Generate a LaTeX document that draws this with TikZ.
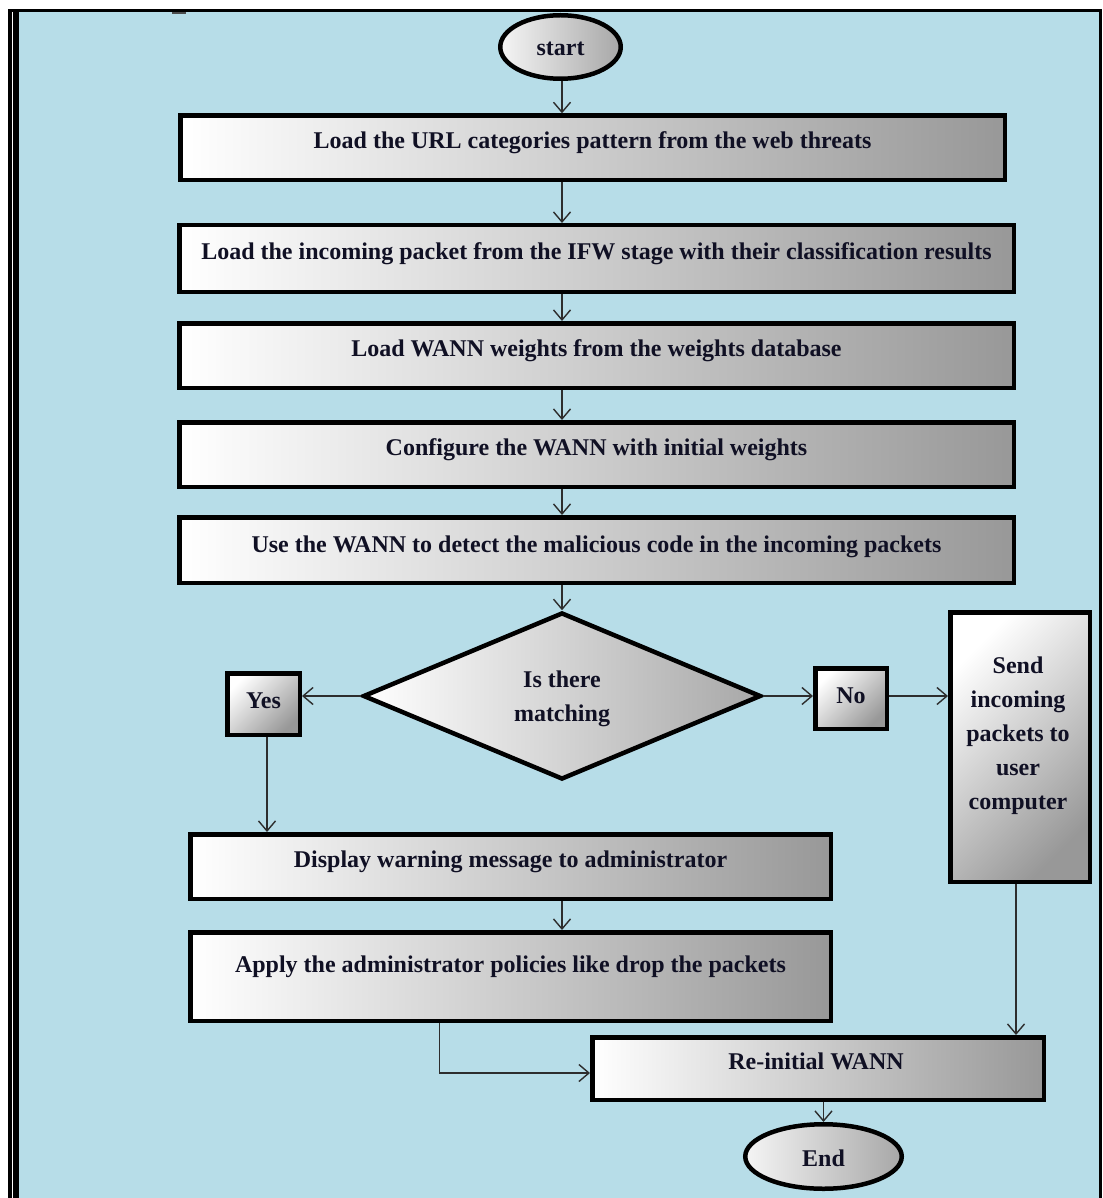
\documentclass[tikz,border=0pt]{standalone}
\usepackage{fontspec}
\setmainfont{Liberation Serif}
\usetikzlibrary{shapes.geometric,arrows.meta}
\definecolor{bgblue}{RGB}{183,221,232}
\definecolor{boxgray}{RGB}{152,152,152}
\definecolor{ink}{RGB}{16,16,36}
\definecolor{wire}{RGB}{45,45,45}
\begin{document}
\begin{tikzpicture}[x=1pt,y=-1pt,
  box/.style={draw=black, line width=4.5pt, rectangle, inner sep=0pt,
    left color=white, right color=boxgray},
  dbox/.style={draw=black, line width=4.5pt, rectangle, inner sep=0pt,
    top color=white, bottom color=boxgray, shading angle=45},
  oval/.style={draw=black, line width=4.5pt, ellipse, inner sep=0pt,
    left color=white!96!black, right color=boxgray!85!white},
  decision/.style={draw=black, line width=4.5pt, diamond, inner sep=0pt,
    left color=white, right color=boxgray!85!white},
  txt/.style={font=\bfseries\fontsize{24}{34}\selectfont, text=ink,
    align=center, inner sep=0pt, text height=17pt, text depth=5pt},
  txtm/.style={font=\bfseries\fontsize{24}{34}\selectfont, text=ink,
    align=center, inner sep=0pt},
  arr/.style={draw=wire, line width=1.4pt,
    -{Straight Barb[length=10pt,width=17pt]}}
]
\useasboundingbox (0,0) rectangle (1102,1198);

% page frame and background
\fill[white] (0,0) rectangle (1102,1198);
\fill[bgblue] (18.7,12.3) rectangle (1099,1198);
\fill[black] (8,9) rectangle (1102,12.3);
\fill[black] (8,9) rectangle (11.7,1198);
\fill[black] (13.3,12.3) rectangle (18.7,1198);
\fill[black] (1099,9) rectangle (1102,1198);
\fill[black!70] (172,12.3) rectangle (186,14);

\coordinate (axis) at (562,0);

% terminals
\node[oval, minimum width=120.5, minimum height=63.5] (start) at (560.5,47) {};
\node[txt] (start-t) at ([yshift=-3]start.center) {start};

\node[oval, minimum width=156.5, minimum height=64.5] (end) at (823.5,1156.5) {};
\node[txt] (end-t) at ([yshift=-3.5]end.center) {End};

% main column of steps
\node[box, minimum width=824.5, minimum height=64.5] (b1) at (592.5,147.8) {};
\node[txt] (b1-t) at ([yshift=5]b1.center) {Load the URL categories pattern from the web threats};

\node[box, minimum width=834.5, minimum height=66.5] (b2) at (596.5,258.5) {};
\node[txt] (b2-t) at ([yshift=5.5]b2.center) {Load the incoming packet from the IFW stage with their classification results};

\node[box, minimum width=834.5, minimum height=64.5] (b3) at (596.5,355.5) {};
\node[txt] (b3-t) at ([yshift=5.5]b3.center) {Load WANN weights from the weights database};

\node[box, minimum width=834.5, minimum height=64.5] (b4) at (596.5,454.5) {};
\node[txt] (b4-t) at ([yshift=5.5]b4.center) {Configure the WANN with initial weights};

\node[box, minimum width=834.5, minimum height=65.5] (b5) at (596.5,550) {};
\node[txt] (b5-t) at ([yshift=4]b5.center) {Use the WANN to detect the malicious code in the incoming packets};

% decision
\node[decision, minimum width=398, minimum height=167] (dec) at (562,696) {};
\node[txtm] (dec-t) at ([yshift=-3]dec.center) {Is there\\matching};

\node[dbox, minimum width=72.5, minimum height=61.5] (yes) at (263.5,704) {};
\node[txt] (yes-t) at ([yshift=2]yes.center) {Yes};

\node[dbox, minimum width=71.5, minimum height=60.5] (no) at (851,698.5) {};
\node[txt] (no-t) at ([yshift=1.5]no.center) {No};

\node[dbox, minimum width=139.5, minimum height=269.5] (send) at (1020,747) {};
\node[txtm] (send-t) at ([xshift=-2,yshift=11]send.center) {Send\\incoming\\packets to\\user\\computer};

% matching branch
\node[box, minimum width=640.5, minimum height=64.5] (disp) at (510.5,866.5) {};
\node[txt] (disp-t) at ([yshift=5.5]disp.center) {Display warning message to administrator};

\node[box, minimum width=640.5, minimum height=88.5] (apply) at (510.5,976.5) {};
\node[txt] (apply-t) at ([yshift=10.5]apply.center) {Apply the administrator policies like drop the packets};

\node[box, minimum width=451.5, minimum height=62.5] (reinit) at (818,1068.5) {};
\node[txt] (reinit-t) at ([xshift=-2,yshift=5.5]reinit.center) {Re-initial WANN};

% connectors
\draw[arr] (start.south -| axis) -- (b1.north -| axis);
\draw[arr] (b1.south -| axis) -- (b2.north -| axis);
\draw[arr] (b2.south -| axis) -- (b3.north -| axis);
\draw[arr] (b3.south -| axis) -- (b4.north -| axis);
\draw[arr] (b4.south -| axis) -- (b5.north -| axis);
\draw[arr] (b5.south -| axis) -- (dec.north);
\draw[arr] (dec.west) -- (dec.west -| yes.east);
\draw[arr] (dec.east) -- (dec.east -| no.west);
\draw[arr] (dec.east -| no.east) -- (dec.east -| send.west);

\coordinate (ydrop) at ([xshift=3.5]yes.south);
\draw[arr] (ydrop) -- (ydrop |- disp.north);
\draw[arr] (disp.south -| axis) -- (apply.north -| axis);

\coordinate (turn) at (439.5,1073);
\draw[arr] (apply.south -| turn) -- (turn) -- (turn -| reinit.west);

\coordinate (sdrop) at ([xshift=-4]send.south);
\draw[arr] (sdrop) -- (sdrop |- reinit.north);

\draw[arr] (end.north |- reinit.south) -- (end.north);
\end{tikzpicture}
\end{document}
